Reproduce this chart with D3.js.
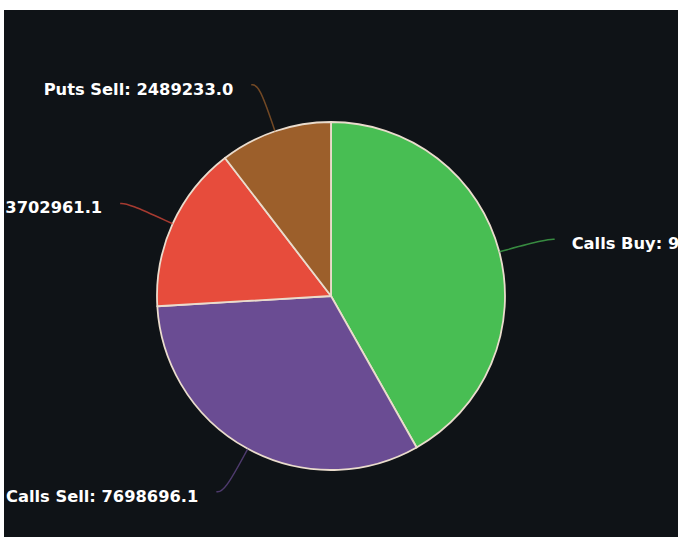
<!DOCTYPE html>
<html>
<head>
<meta charset="utf-8">
<script src="https://cdn.jsdelivr.net/npm/d3@7"></script>
<style>
  html, body { margin: 0; padding: 0; background: #fff; overflow: hidden; }
  svg { position: absolute; left: 4px; top: 10px; display: block; }
  .label { font-family: "DejaVu Sans", Verdana, sans-serif; font-weight: 700; font-size: 16.3px; fill: #fff; }
</style>
</head>
<body>
<svg width="674" height="527"></svg>
<script>
const categories = ["Calls Buy", "Calls Sell", "Puts Buy", "Puts Sell"],
      values = [9981164.2, 7698696.1, 3702961.1, 2489233.0],
      sliceColors = ["#48be53", "#6a4c93", "#e74c3c", "#9c5f2b"]

const svg = d3.select("svg"),
      width = +svg.attr("width"),
      height = +svg.attr("height"),
      radius = 174,
      g = svg.append("g").attr("transform", "translate(" + (331 - 4) + "," + (296 - 10) + ")")

svg.insert("rect", ":first-child")
  .attr("width", width)
  .attr("height", height)
  .attr("fill", "#0f1317")

const colors = d3.scaleOrdinal().domain(categories).range(sliceColors)

const data = categories.map((c, i) => ({name: c, value: values[i]}))

const pie = d3.pie().sort(null).value(d => d.value)
const arc = d3.arc().innerRadius(0).outerRadius(radius)

const arcs = pie(data)

g.selectAll(".slice")
  .data(arcs)
  .enter().append("path")
    .attr("class", "slice")
    .attr("d", arc)
    .attr("fill", d => colors(d.data.name))
    .attr("stroke", "#eadccd")
    .attr("stroke-width", 1.8)
    .attr("stroke-linejoin", "round")

// leader line: radial first, then a short horizontal bit, smoothed
const polar = (a, r) => [Math.sin(a) * r, -Math.cos(a) * r]
const mid = d => (d.startAngle + d.endAngle) / 2
const side = d => Math.sin(mid(d)) > 0 ? 1 : -1

function leaderPoints(d) {
  let a = mid(d),
      p0 = polar(a, radius),
      p1 = polar(a, radius + 49)
  return [p0, p1, [p1[0] + side(d) * 8, p1[1]]]
}

const leader = d3.line().curve(d3.curveBasis)

g.selectAll(".leader")
  .data(arcs)
  .enter().append("path")
    .attr("class", "leader")
    .attr("d", d => leader(leaderPoints(d)))
    .attr("fill", "none")
    .attr("stroke", d => colors(d.data.name))
    .attr("stroke-opacity", 0.7)
    .attr("stroke-width", 1.5)

g.selectAll(".label")
  .data(arcs)
  .enter().append("text")
    .attr("class", "label")
    .attr("x", function (d) {
      let end = leaderPoints(d)[2]
      return side(d) > 0 ? end[0] + 17 : end[0] - 18
    })
    .attr("y", d => leaderPoints(d)[2][1] + 10)
    .attr("text-anchor", d => side(d) > 0 ? "start" : "end")
    .text(d => d.data.name + ": " + d.data.value.toFixed(1))
</script>
</body>
</html>
